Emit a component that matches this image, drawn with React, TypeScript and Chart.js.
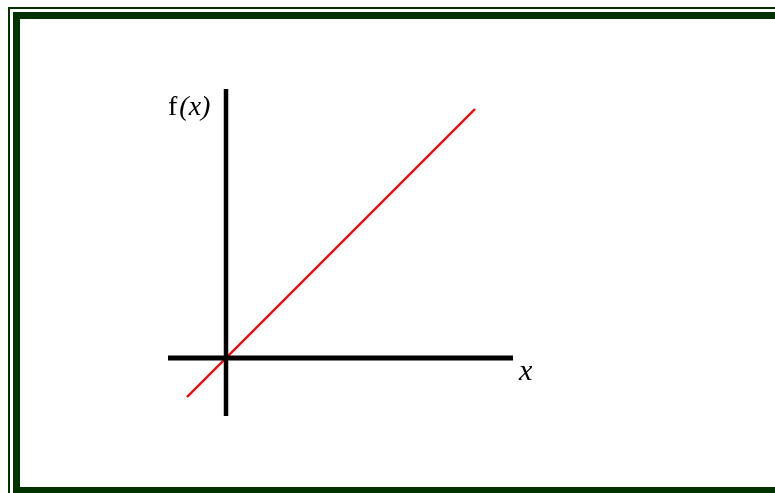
import React, { useEffect, useRef } from "react";
import { Chart, registerables } from "chart.js";

Chart.register(...registerables);

// Data (chart units; origin at the axes crossing)
const xAxisLine = [
  { x: -1.16, y: 0 },
  { x: 5.74, y: 0 },
];
const yAxisLine = [
  { x: 0, y: -1.16 },
  { x: 0, y: 5.38 },
];
const identityLine = [
  { x: -0.78, y: -0.78 },
  { x: 4.98, y: 4.98 },
];
const yLabelFn = "f";
const yLabelArg = "(x)";
const xLabel = "x";
const yLabelPos = { x: -1.16, y: 4.86 };
const xLabelPos = { x: 5.86, y: -0.44 };

const GREEN = "#003300";

const labelPlugin = {
  id: "axisLabels",
  afterDatasetsDraw(chart: any) {
    const { ctx, scales } = chart;
    const sx = scales.x;
    const sy = scales.y;
    ctx.save();
    ctx.fillStyle = "#000";
    ctx.textBaseline = "alphabetic";
    ctx.textAlign = "left";
    // f(x)
    let px = sx.getPixelForValue(yLabelPos.x);
    const py = sy.getPixelForValue(yLabelPos.y);
    ctx.font = "28px 'Liberation Serif', serif";
    ctx.fillText(yLabelFn, px, py);
    px += ctx.measureText(yLabelFn).width + 2;
    ctx.font = "italic 28px 'Liberation Serif', serif";
    ctx.fillText(yLabelArg, px, py);
    // x
    ctx.font = "italic 30px 'Liberation Serif', serif";
    ctx.fillText(xLabel, sx.getPixelForValue(xLabelPos.x), sy.getPixelForValue(xLabelPos.y));
    ctx.restore();
  },
};

function LineChart() {
  const ref = useRef<HTMLCanvasElement | null>(null);
  useEffect(() => {
    if (!ref.current) return;
    const chart = new Chart(ref.current, {
      type: "scatter",
      data: {
        datasets: [
          {
            data: xAxisLine,
            showLine: true,
            borderColor: "#000",
            borderWidth: 5,
            pointRadius: 0,
          },
          {
            data: yAxisLine,
            showLine: true,
            borderColor: "#000",
            borderWidth: 4.5,
            pointRadius: 0,
          },
          {
            data: identityLine,
            showLine: true,
            borderColor: "#ff0000",
            borderWidth: 2.4,
            pointRadius: 0,
          },
        ],
      },
      options: {
        animation: false,
        responsive: false,
        maintainAspectRatio: false,
        layout: { padding: 0 },
        plugins: {
          legend: { display: false },
          tooltip: { enabled: false },
          title: { display: false },
        },
        scales: {
          x: { type: "linear", min: -4.52, max: 10.98, display: false },
          y: { type: "linear", min: -2.7, max: 7.16, display: false },
        },
      },
      plugins: [labelPlugin],
    });
    return () => chart.destroy();
  }, []);
  return (
    <canvas
      ref={ref}
      width={775}
      height={493}
      style={{ position: "absolute", left: 0, top: 0, width: 775, height: 493 }}
    />
  );
}

export default function App() {
  return (
    <div
      style={{
        position: "fixed",
        left: 0,
        top: 0,
        width: 775,
        height: 493,
        overflow: "hidden",
        background: "#fff",
      }}
    >
      <div
        style={{
          position: "absolute",
          left: 8,
          top: 7,
          width: 900,
          height: 700,
          border: `2px solid ${GREEN}`,
        }}
      />
      <div
        style={{
          position: "absolute",
          left: 13,
          top: 12,
          width: 900,
          height: 468,
          border: `7px solid ${GREEN}`,
        }}
      />
      <LineChart />
    </div>
  );
}
